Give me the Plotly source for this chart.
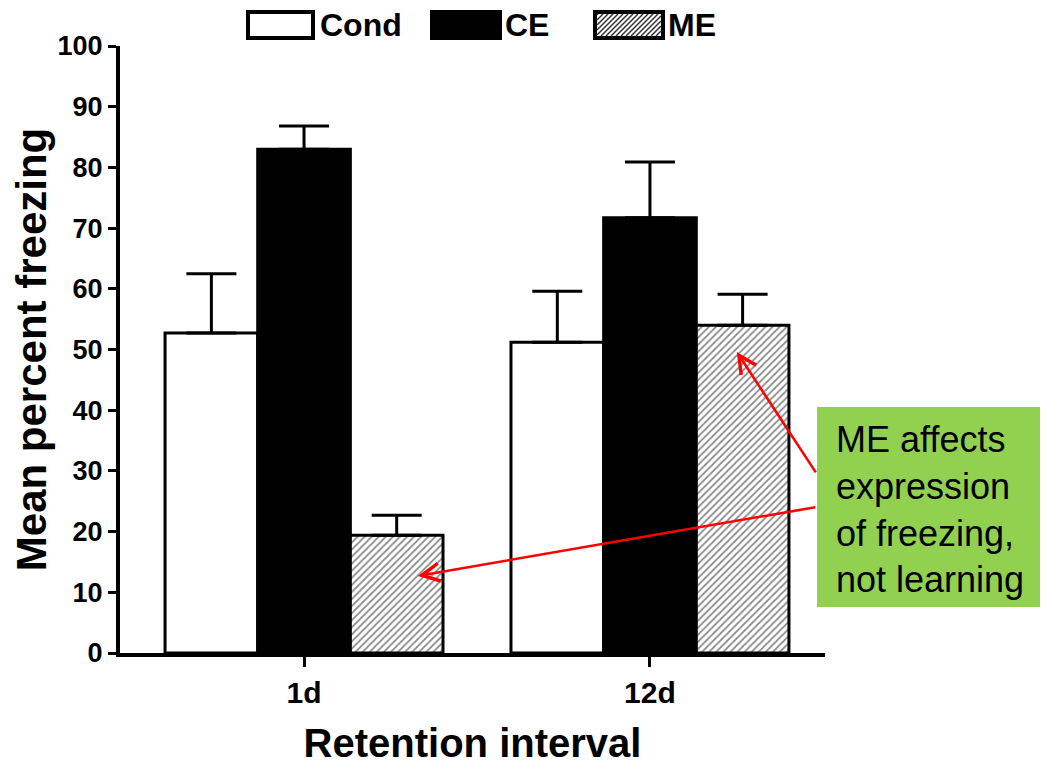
import plotly.graph_objects as go

categories = ["1d", "12d"]
series_names = ["Cond", "CE", "ME"]
cond_vals = [52.7, 51.2]
ce_vals = [83.0, 71.7]
me_vals = [19.4, 54.0]
cond_err = [9.8, 8.4]
ce_err = [3.8, 9.2]
me_err = [3.3, 5.1]
y_ticks = [0, 10, 20, 30, 40, 50, 60, 70, 80, 90, 100]
note_text = "ME affects<br>expression<br>of freezing,<br>not learning"

FONT = "Liberation Sans, Arial, sans-serif"
OFF = 8  # page body margin
W, H = 1048 - OFF, 772 - OFF
ML, MR, MT, MB = 120 - OFF, 223, 46 - OFF, 119
PW, PH = W - ML - MR, H - MT - MB


def px2paper(px, py):
    # px, py given in screen pixels
    return (px - OFF - ML) / PW, (H - MB - (py - OFF)) / PH


fig = go.Figure()

styles = [
    dict(color="white"),
    dict(color="black"),
    dict(color="white", pattern=dict(shape="/", fgcolor="#1a1a1a", bgcolor="white", size=5, solidity=0.35)),
]
for name, vals, errs, st in zip(series_names, [cond_vals, ce_vals, me_vals],
                                 [cond_err, ce_err, me_err], styles):
    fig.add_trace(go.Bar(
        name=name, x=categories, y=vals,
        marker=dict(line=dict(color="black", width=3), **st),
        error_y=dict(type="data", array=errs, arrayminus=[0] * len(errs), symmetric=False,
                     color="black", thickness=3, width=25),
        showlegend=False,
    ))

fig.update_layout(
    width=W, height=H,
    margin=dict(l=ML, r=MR, t=MT, b=MB),
    barmode="group", bargap=0.1965, bargroupgap=0,
    plot_bgcolor="white", paper_bgcolor="white",
    font=dict(family=FONT, color="black"),
)

fig.update_xaxes(
    type="category", categoryorder="array", categoryarray=categories,
    range=[-0.532, 1.506],
    showline=True, linewidth=4, linecolor="black", mirror=False,
    ticks="outside", ticklen=10, tickwidth=3, tickcolor="black",
    tickfont=dict(family=FONT, size=30, weight="bold"),
    title=dict(text="Retention interval", font=dict(family=FONT, size=40, weight="bold"), standoff=22),
    showgrid=False, zeroline=False,
)
fig.update_yaxes(
    range=[0, 100], tickvals=y_ticks,
    showline=True, linewidth=4, linecolor="black",
    ticks="outside", ticklen=8, tickwidth=3, tickcolor="black",
    tickfont=dict(family=FONT, size=27, weight="bold"),
    title=dict(text="Mean percent freezing", font=dict(family=FONT, size=42, weight="bold"), standoff=6),
    showgrid=False, zeroline=False,
)

# custom legend
legend_boxes = [(248, 313), (432, 500), (595, 663)]
legend_text_x = [318, 503, 666]
shapes = []
annotations = []
for i, (name, (bx0, bx1), tx) in enumerate(zip(series_names, legend_boxes, legend_text_x)):
    x0, y0 = px2paper(bx0, 38)
    x1, y1 = px2paper(bx1, 12)
    fill = "black" if i == 1 else "white"
    shapes.append(dict(type="rect", xref="paper", yref="paper", x0=x0, x1=x1, y0=y0, y1=y1,
                       fillcolor=fill, line=dict(color="black", width=4), layer="above"))
    if i == 2:
        segs = []
        step = 5
        for k in range(-26, (bx1 - bx0) + 1, step):
            sx0, sy0 = bx0 + 2 + k, 36
            sx1, sy1 = sx0 + 22, 14
            lx0, ly0, lx1, ly1 = sx0, sy0, sx1, sy1
            if lx0 < bx0 + 2:
                d = bx0 + 2 - lx0
                lx0 += d; ly0 -= d
            if lx1 > bx1 - 2:
                d = lx1 - (bx1 - 2)
                lx1 -= d; ly1 += d
            if lx1 <= lx0:
                continue
            a = px2paper(lx0, ly0)
            b = px2paper(lx1, ly1)
            segs.append(f"M{a[0]},{a[1]} L{b[0]},{b[1]}")
        shapes.append(dict(type="path", xref="paper", yref="paper", path=" ".join(segs),
                           line=dict(color="#333333", width=1.5), layer="above"))
    ax_, ay_ = px2paper(tx, 25)
    annotations.append(dict(text=name, xref="paper", yref="paper", x=ax_, y=ay_,
                            xanchor="left", yanchor="middle", showarrow=False,
                            font=dict(family=FONT, size=32, weight="bold", color="black")))

# green note box
gx0, gy0 = px2paper(817, 607)
gx1, gy1 = px2paper(1048, 407)
shapes.append(dict(type="rect", xref="paper", yref="paper", x0=gx0, x1=gx1, y0=gy0, y1=gy1,
                   fillcolor="#92D050", line=dict(width=0), layer="above"))
nx, ny = px2paper(834, 509)
annotations.append(dict(text=note_text, xref="paper", yref="paper", x=nx, y=ny,
                        xanchor="left", yanchor="middle", align="left", showarrow=False,
                        font=dict(family=FONT, size=36, color="black")))

# red arrows pointing at ME bars
annotations.append(dict(x=1.251, y=49.6, xref="x", yref="y", ax=80, ay=122, axref="pixel", ayref="pixel",
                        text="", showarrow=True, arrowhead=5, arrowsize=1.4, arrowwidth=2.5,
                        arrowcolor="red"))
annotations.append(dict(x=0.329, y=12.7, xref="x", yref="y", ax=399, ay=-69, axref="pixel", ayref="pixel",
                        text="", showarrow=True, arrowhead=5, arrowsize=1.4, arrowwidth=2.5,
                        arrowcolor="red"))

fig.update_layout(shapes=shapes, annotations=annotations)

fig.write_html("out.html")
